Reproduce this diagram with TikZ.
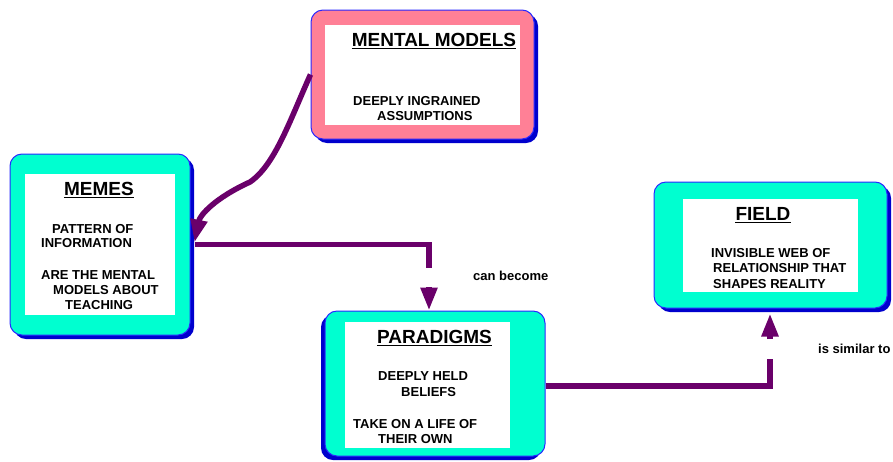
\documentclass[tikz,border=0pt]{standalone}
\usepackage{fontspec}
\setmainfont{Liberation Sans}
\usetikzlibrary{arrows.meta,shadows}
\definecolor{boxcyan}{RGB}{0,255,208}
\definecolor{boxpink}{RGB}{255,128,150}
\definecolor{edgeblue}{RGB}{40,40,255}
\definecolor{shadeblue}{RGB}{0,0,205}
\definecolor{linkpurple}{RGB}{106,0,106}

\begin{document}
\begin{tikzpicture}[x=1pt,y=-1pt,
  card/.style={rectangle, rounded corners=12pt, draw=edgeblue, line width=1pt, inner sep=0pt},
  shade right/.style={general shadow={fill=shadeblue, shadow xshift=4pt, shadow yshift=-4pt}},
  shade left/.style={general shadow={fill=shadeblue, shadow xshift=-4pt, shadow yshift=-4pt}},
  panel/.style={rectangle, fill=white, inner sep=0pt},
  heading/.style={font=\fontsize{19}{22}\selectfont\bfseries, inner sep=0pt, anchor=base},
  body/.style={font=\fontsize{13}{15}\selectfont\bfseries, inner sep=0pt, anchor=base west},
  linktext/.style={font=\fontsize{13}{15}\selectfont\bfseries, inner sep=0pt, anchor=base west},
  link/.style={draw=linkpurple, line width=5.5pt},
  arrowend/.style={-{Triangle[length=23pt,width=16pt]}},
  rule/.style={line width=1.3pt}
]
\useasboundingbox (0,0) rectangle (893,461);

% ---- MENTAL MODELS ----
\node[card, shade right, fill=boxpink, minimum width=223pt, minimum height=129pt] (mm) at (422.5,74.5) {};
\node[panel, minimum width=195pt, minimum height=100pt] (mm-panel) at (422.5,75) {};
\node[heading] (mm-title) at (434,46) {MENTAL MODELS};
\draw[rule] ([yshift=-2.5pt]mm-title.base west) -- ([yshift=-2.5pt]mm-title.base east);
\node[body] (mm-t1) at (353,105) {DEEPLY INGRAINED};
\node[body] (mm-t2) at (377,120) {ASSUMPTIONS};

% ---- MEMES ----
\node[card, shade right, fill=boxcyan, minimum width=180pt, minimum height=181pt] (memes) at (100,244.5) {};
\node[panel, minimum width=150pt, minimum height=141pt] (memes-panel) at (100,244.5) {};
\node[heading] (memes-title) at (99,195) {MEMES};
\draw[rule] ([yshift=-2.5pt]memes-title.base west) -- ([yshift=-2.5pt]memes-title.base east);
\node[body] (memes-t1) at (52,233) {PATTERN OF};
\node[body] (memes-t2) at (41,247) {INFORMATION};
\node[body] (memes-t3) at (41,279) {ARE THE MENTAL};
\node[body] (memes-t4) at (53,294) {MODELS ABOUT};
\node[body] (memes-t5) at (65,309) {TEACHING};

% ---- PARADIGMS ----
\node[card, shade left, fill=boxcyan, minimum width=220pt, minimum height=145pt] (para) at (435,383.5) {};
\node[panel, minimum width=165pt, minimum height=126pt] (para-panel) at (427.5,385) {};
\node[heading] (para-title) at (434.5,343) {PARADIGMS};
\draw[rule] ([yshift=-2.5pt]para-title.base west) -- ([yshift=-2.5pt]para-title.base east);
\node[body] (para-t1) at (378,380) {DEEPLY HELD};
\node[body] (para-t2) at (401,396) {BELIEFS};
\node[body] (para-t3) at (353,428) {TAKE ON A LIFE OF};
\node[body] (para-t4) at (378,443) {THEIR OWN};

% ---- FIELD ----
\node[card, shade right, fill=boxcyan, minimum width=233pt, minimum height=126pt] (field) at (770.5,245) {};
\node[panel, minimum width=175pt, minimum height=93pt] (field-panel) at (770.5,245.5) {};
\node[heading] (field-title) at (763,220) {FIELD};
\draw[rule] ([yshift=-2.5pt]field-title.base west) -- ([yshift=-2.5pt]field-title.base east);
\node[body] (field-t1) at (711,257) {INVISIBLE WEB OF};
\node[body] (field-t2) at (713,272) {RELATIONSHIP THAT};
\node[body] (field-t3) at (713,288) {SHAPES REALITY};

% ---- connectors ----
\draw[link, arrowend] (mm.west)
  .. controls (290,120) and (275,165) .. (250,182)
  .. controls (215,198) and (200,215) .. ([xshift=4pt,yshift=2pt]memes.east);

\coordinate (g1) at (429,268);
\coordinate (g2) at (429,287);
\draw[link] ([xshift=4pt]memes.east) -| (g1);
\draw[link, arrowend] (g2) -- (g2 |- para.north);
\node[linktext] (become) at (473,280) {can become};

\coordinate (g3) at (770,359);
\coordinate (g4) at (770,339);
\draw[link] ([yshift=-2.5pt]para.east) -| (g3);
\draw[link, arrowend] (g4) -- ([yshift=-5pt]g4 |- field.south);
\node[linktext] (similar) at (818,353) {is similar to};
\end{tikzpicture}
\end{document}
